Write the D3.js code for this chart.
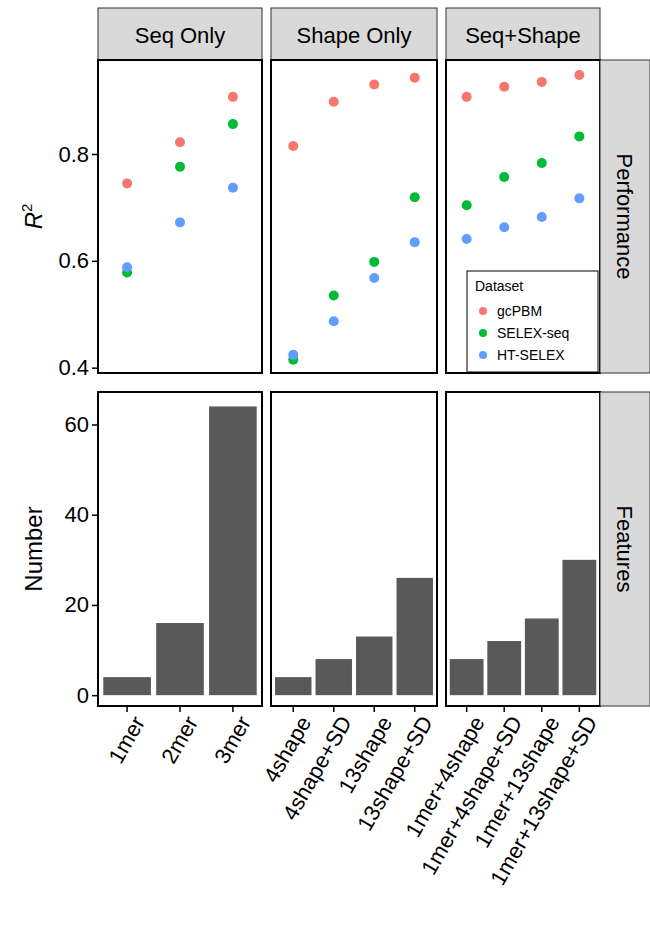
<!DOCTYPE html>
<html><head><meta charset="utf-8">
<script src="https://cdn.jsdelivr.net/npm/d3@7"></script>
<style>body{margin:0;background:#fff}text{font-family:"Liberation Sans",Arial,sans-serif}</style>
</head><body><svg width="650" height="937"></svg>
<script>
const facets = ["Seq Only", "Shape Only", "Seq+Shape"];
const models = [
  ["1mer", "2mer", "3mer"],
  ["4shape", "4shape+SD", "13shape", "13shape+SD"],
  ["1mer+4shape", "1mer+4shape+SD", "1mer+13shape", "1mer+13shape+SD"]
];
const datasets = ["gcPBM", "SELEX-seq", "HT-SELEX"];
const colors = ["#F8766D", "#00BA38", "#619CFF"];
const gcPBM = [[0.745, 0.822, 0.907], [0.815, 0.898, 0.930, 0.943], [0.907, 0.926, 0.935, 0.948]];
const selex = [[0.578, 0.776, 0.856], [0.415, 0.535, 0.598, 0.719], [0.704, 0.757, 0.783, 0.833]];
const htselex = [[0.588, 0.672, 0.737], [0.424, 0.487, 0.568, 0.635], [0.641, 0.663, 0.682, 0.717]];
const features = [[4, 16, 64], [4, 8, 13, 26], [8, 12, 17, 30]];
const r2Ticks = [0.4, 0.6, 0.8];
const numTicks = [0, 20, 40, 60];

const svg = d3.select("svg");
const cols = [[98, 262], [271, 437], [446, 600]];
const topY = [60, 373], botY = [392, 706];
const yR = d3.scaleLinear().domain([0.39, 0.976]).range([topY[1], topY[0]]);
const yN = d3.scaleLinear().domain([-2.4, 67.2]).range([botY[1], botY[0]]);
const series = [gcPBM, selex, htselex];

facets.forEach((f, i) => {
  const [x0, x1] = cols[i];
  const x = d3.scaleBand().domain(models[i]).range([x0, x1]).padding(0.1);
  // strip
  svg.append("rect").attr("x", x0).attr("y", 8).attr("width", x1 - x0).attr("height", topY[0] - 8)
    .attr("fill", "#d9d9d9").attr("stroke", "#333").attr("stroke-width", 1);
  svg.append("text").attr("x", (x0 + x1) / 2).attr("y", 43).attr("text-anchor", "middle")
    .attr("font-size", 22).text(f);
  // top panel
  series.forEach((s, k) => {
    svg.append("g").selectAll("circle").data(s[i]).join("circle")
      .attr("cx", (d, j) => x(models[i][j]) + x.bandwidth() / 2).attr("cy", d => yR(d))
      .attr("r", 5).attr("fill", colors[k]);
  });
  svg.append("rect").attr("x", x0).attr("y", topY[0]).attr("width", x1 - x0).attr("height", topY[1] - topY[0])
    .attr("fill", "none").attr("stroke", "#000").attr("stroke-width", 2);
  // bottom panel
  svg.append("g").selectAll("rect").data(features[i]).join("rect")
    .attr("x", (d, j) => x(models[i][j])).attr("width", x.bandwidth())
    .attr("y", d => yN(d)).attr("height", d => yN(0) - yN(d)).attr("fill", "#595959");
  svg.append("rect").attr("x", x0).attr("y", botY[0]).attr("width", x1 - x0).attr("height", botY[1] - botY[0])
    .attr("fill", "none").attr("stroke", "#000").attr("stroke-width", 2);
  // x axis
  const ax = svg.append("g").attr("transform", `translate(0,${botY[1]})`)
    .call(d3.axisBottom(x).tickSize(6).tickSizeOuter(0));
  ax.select(".domain").remove();
  ax.selectAll("line").attr("stroke", "#000").attr("stroke-width", 1.5);
  ax.selectAll("text").attr("font-size", 22).attr("fill", "#000")
    .attr("text-anchor", "end").attr("x", 0).attr("y", 0).attr("dy", "0.35em")
    .attr("transform", "translate(12,12) rotate(-60)");
});

// y axes
const ay = svg.append("g").attr("transform", `translate(${cols[0][0]},0)`)
  .call(d3.axisLeft(yR).tickValues(r2Ticks).tickFormat(d3.format(".1f")).tickSize(6));
const ay2 = svg.append("g").attr("transform", `translate(${cols[0][0]},0)`)
  .call(d3.axisLeft(yN).tickValues(numTicks).tickSize(6));
[ay, ay2].forEach(a => {
  a.select(".domain").remove();
  a.selectAll("line").attr("stroke", "#000").attr("stroke-width", 1.5);
  a.selectAll("text").attr("font-size", 22).attr("fill", "#000");
});
const t = svg.append("text").attr("transform", `translate(42,${(topY[0] + topY[1]) / 2}) rotate(-90)`)
  .attr("text-anchor", "middle").attr("font-size", 24);
t.append("tspan").attr("font-style", "italic").text("R");
t.append("tspan").attr("font-size", 15).attr("dy", -10).text("2");
svg.append("text").attr("transform", `translate(42,${(botY[0] + botY[1]) / 2}) rotate(-90)`)
  .attr("text-anchor", "middle").attr("font-size", 24).text("Number");

// right strips
[["Performance", topY], ["Features", botY]].forEach(([lab, yy]) => {
  svg.append("rect").attr("x", 600).attr("y", yy[0]).attr("width", 50).attr("height", yy[1] - yy[0])
    .attr("fill", "#d9d9d9").attr("stroke", "#333");
  svg.append("text").attr("transform", `translate(617,${(yy[0] + yy[1]) / 2}) rotate(90)`)
    .attr("text-anchor", "middle").attr("font-size", 22).text(lab);
});

// legend
const lg = svg.append("g").attr("transform", "translate(467,271)");
lg.append("rect").attr("width", 131).attr("height", 101).attr("fill", "#fff").attr("stroke", "#000");
lg.append("text").attr("x", 8).attr("y", 20).attr("font-size", 14).text("Dataset");
datasets.forEach((d, k) => {
  lg.append("circle").attr("cx", 16).attr("cy", 40 + k * 22).attr("r", 4).attr("fill", colors[k]);
  lg.append("text").attr("x", 30).attr("y", 45 + k * 22).attr("font-size", 14).text(d);
});
</script></body></html>
